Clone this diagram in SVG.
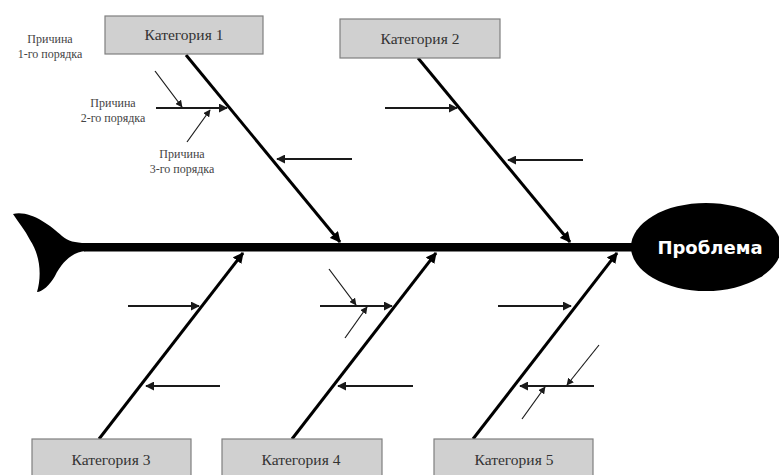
<svg xmlns="http://www.w3.org/2000/svg" width="779" height="475" viewBox="0 0 779 475">
<style>
.box{fill:#d0d0d0;stroke:#7f7f7f;stroke-width:1.2}
.cat{font-family:"Liberation Serif",serif;font-size:15.5px;fill:#333;text-anchor:middle}
.lbl{font-family:"Liberation Serif",serif;font-size:12px;fill:#444;text-anchor:middle}
.bone{stroke:#000;stroke-width:3;fill:none}
.sub{stroke:#1a1a1a;stroke-width:2;fill:none}
.thin{stroke:#1a1a1a;stroke-width:1.2;fill:none}
</style>
<defs>
<marker id="ab" viewBox="0 0 10 10" refX="9" refY="5" markerWidth="3.6" markerHeight="3.6" orient="auto" markerUnits="strokeWidth"><path d="M0,0 L10,5 L0,10 Z" fill="#000"/></marker>
<marker id="as" viewBox="0 0 10 10" refX="9" refY="5" markerWidth="4.5" markerHeight="4.5" orient="auto" markerUnits="strokeWidth"><path d="M0,0 L10,5 L0,10 Z" fill="#1a1a1a"/></marker>
<marker id="at" viewBox="0 0 10 10" refX="9" refY="5" markerWidth="6" markerHeight="6" orient="auto" markerUnits="strokeWidth"><path d="M0,0 L10,5 L0,10 Z" fill="#1a1a1a"/></marker>
</defs>
<g id="spine">
<path d="M13,214 C30,210 50,225 62,236 C68,241 75,243 86,243 L86,251 C72,252 62,262 55,276 C50,285 42,292 37,292 C42,275 40,255 30,240 C25,230 18,222 13,214 Z" fill="#000"/>
<rect x="84" y="243" width="560" height="8.5" fill="#000"/>
</g>
<g id="problem">
<ellipse cx="706" cy="247" rx="75" ry="44" fill="#000"/>
<text x="710" y="254" font-family="'DejaVu Sans',sans-serif" font-weight="bold" font-size="18" fill="#fff" text-anchor="middle">Проблема</text>
</g>
<g id="connectors">
<line class="bone" x1="186" y1="55" x2="340" y2="242" marker-end="url(#ab)"/>
<line class="bone" x1="418" y1="58" x2="570" y2="242" marker-end="url(#ab)"/>
<line class="bone" x1="99" y1="439" x2="243" y2="253" marker-end="url(#ab)"/>
<line class="bone" x1="292" y1="439" x2="436" y2="253" marker-end="url(#ab)"/>
<line class="bone" x1="473" y1="439" x2="617" y2="253" marker-end="url(#ab)"/>
<line class="sub" x1="156" y1="108" x2="227" y2="108" marker-end="url(#as)"/>
<line class="sub" x1="352" y1="159" x2="277" y2="159" marker-end="url(#as)"/>
<line class="sub" x1="385" y1="108" x2="457" y2="108" marker-end="url(#as)"/>
<line class="sub" x1="583" y1="160" x2="508" y2="160" marker-end="url(#as)"/>
<line class="sub" x1="128" y1="306" x2="199" y2="306" marker-end="url(#as)"/>
<line class="sub" x1="220" y1="386" x2="146" y2="386" marker-end="url(#as)"/>
<line class="sub" x1="320" y1="306" x2="392" y2="306" marker-end="url(#as)"/>
<line class="sub" x1="413" y1="386" x2="338" y2="386" marker-end="url(#as)"/>
<line class="sub" x1="498" y1="306" x2="571" y2="306" marker-end="url(#as)"/>
<line class="sub" x1="594" y1="386" x2="520" y2="386" marker-end="url(#as)"/>
<line class="thin" x1="155" y1="71" x2="182" y2="107" marker-end="url(#at)"/>
<line class="thin" x1="187" y1="142" x2="210" y2="110" marker-end="url(#at)"/>
<line class="thin" x1="329" y1="269" x2="356" y2="305" marker-end="url(#at)"/>
<line class="thin" x1="345" y1="338" x2="367" y2="307" marker-end="url(#at)"/>
<line class="thin" x1="599" y1="345" x2="567" y2="385" marker-end="url(#at)"/>
<line class="thin" x1="522" y1="419" x2="545" y2="387" marker-end="url(#at)"/>
</g>
<g id="cat1"><rect class="box" x="105" y="16" width="158" height="38"/><text class="cat" x="184" y="40">Категория 1</text></g>
<g id="cat2"><rect class="box" x="340" y="19" width="160" height="39"/><text class="cat" x="420" y="44">Категория 2</text></g>
<g id="cat3"><rect class="box" x="32" y="439" width="159" height="40"/><text class="cat" x="111" y="465">Категория 3</text></g>
<g id="cat4"><rect class="box" x="222" y="439" width="160" height="40"/><text class="cat" x="301" y="465">Категория 4</text></g>
<g id="cat5"><rect class="box" x="434" y="439" width="159" height="40"/><text class="cat" x="514" y="465">Категория 5</text></g>
<g id="labels">
<text class="lbl" x="50" y="43">Причина</text>
<text class="lbl" x="50" y="58">1-го порядка</text>
<text class="lbl" x="113" y="107">Причина</text>
<text class="lbl" x="113" y="122">2-го порядка</text>
<text class="lbl" x="182" y="158">Причина</text>
<text class="lbl" x="182" y="173">3-го порядка</text>
</g>
</svg>
